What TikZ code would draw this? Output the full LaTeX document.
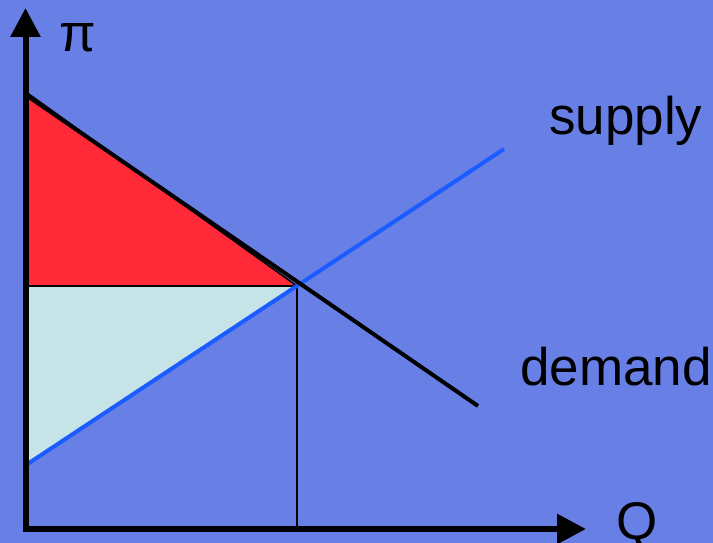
\documentclass[tikz,border=0pt]{standalone}
\usepackage{fontspec}
\setmainfont{Liberation Sans}
\usetikzlibrary{arrows.meta}
\definecolor{bg}{RGB}{104,127,230}
\definecolor{surplusred}{RGB}{255,42,55}
\definecolor{surpluscyan}{RGB}{198,228,232}
\definecolor{supplyblue}{RGB}{26,92,255}
\begin{document}
\begin{tikzpicture}[x=1pt,y=-1pt,
  lbl/.style={inner sep=0pt,anchor=base west,font=\fontsize{53}{60}\selectfont},
  axis/.style={line width=6pt,-{Triangle[width=29pt,length=29pt]}},
  thin/.style={line width=1.6pt,black},
  demandline/.style={line width=4pt,black},
  supplyline/.style={line width=4pt,supplyblue}]
\fill[bg] (0,0) rectangle (713,543);
\useasboundingbox (0,0) rectangle (713,543);
% points
\coordinate (O) at (25.5,529);
\coordinate (ytop) at (25.5,8);
\coordinate (xend) at (586,529);
\coordinate (D0) at (26,92);
\coordinate (D1) at (478,406);
\coordinate (S0) at (26,465);
\coordinate (S1) at (504,149);
\coordinate (E) at (297,286);
\coordinate (P) at (26,286);
\coordinate (QE) at (297,529);
% surplus areas
\filldraw[fill=surplusred,draw=black,line width=1.6pt] (D0) -- (E) -- (P) -- cycle;
\filldraw[fill=surpluscyan,draw=black,line width=1.6pt] (P) -- (E) -- (S0) -- cycle;
\draw[line width=3pt] (D0) -- (S0);
% quantity drop line
\draw[thin] (E) -- (QE);
% curves
\draw[supplyline] (S0) -- (S1);
\draw[demandline] ([yshift=-3pt]D0) -- (D1);
% axes
\draw[axis] (O) -- (ytop);
\draw[axis] ([xshift=-3pt]O) -- (xend);
% labels
\node[lbl] (pi) at (59,52) {π};
\node[lbl] (q) at (616,539) {Q};
\node[lbl] (supply) at (549,135) {supply};
\node[lbl] (demand) at (520,385) {demand};
\end{tikzpicture}
\end{document}
